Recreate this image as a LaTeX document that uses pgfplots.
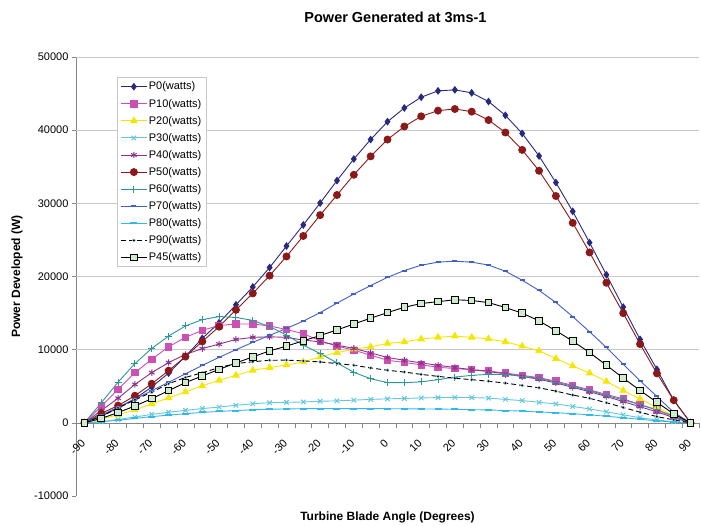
\documentclass[border=0pt]{standalone}
\usepackage{fontspec}
\setmainfont{Liberation Sans}
\usepackage{pgfplots}
\usepackage{pgfplotstable}
\pgfplotsset{compat=1.18}
\definecolor{cP0}{RGB}{40,40,130}
\definecolor{cP10}{RGB}{204,80,180}
\definecolor{cP20}{RGB}{245,230,0}
\definecolor{cP30}{RGB}{100,200,220}
\definecolor{cP40}{RGB}{140,50,140}
\definecolor{cP50}{RGB}{140,25,25}
\definecolor{cP60}{RGB}{45,150,150}
\definecolor{cP70}{RGB}{65,95,200}
\definecolor{cP80}{RGB}{50,185,235}
\definecolor{cP45fill}{RGB}{204,236,204}
\definecolor{axgray}{RGB}{134,134,134}
\definecolor{gridgray}{RGB}{200,200,200}

\pgfplotstableread{
x P0 P10 P20 P30 P40 P50 P60 P70 P80 P90 P45
-90 0 0 0 0 0 0 0 0 0 0 0
-85 900 2260 500 150 1670 1300 2730 1050 150 900 600
-80 2000 4560 1120 450 3360 2350 5560 2150 350 2030 1400
-75 3300 6860 1760 800 5250 3700 8100 3250 600 3140 2300
-70 4900 8690 2590 1150 6860 5340 10170 4400 850 4190 3300
-65 6800 10390 3420 1450 8240 7130 11860 5550 1050 5340 4400
-60 9100 11680 4230 1700 9340 9050 13240 6700 1250 6200 5500
-55 11540 12640 5060 1950 10150 11120 14100 7850 1420 6850 6400
-50 13690 13300 5800 2150 10760 13140 14520 8950 1560 7550 7310
-45 16130 13510 6490 2400 11400 15440 14400 10000 1680 8100 8180
-40 18570 13510 7180 2600 11680 17690 14000 11000 1780 8350 9010
-35 21230 13240 7550 2750 11760 20120 13140 11950 1850 8550 9830
-30 24160 12750 7920 2800 11680 22740 12000 12900 1900 8570 10480
-25 27050 12180 8320 2850 11310 25540 10620 13900 1930 8460 11210
-20 30040 11210 9000 2950 11070 28390 9480 15070 1950 8320 11930
-15 33110 10500 9600 3000 10620 31140 8200 16360 1950 8100 12690
-10 36060 9930 10070 3100 10170 33900 6900 17600 1950 7870 13510
-5 38720 9240 10390 3200 9560 36420 6030 18750 1950 7500 14300
0 41160 8550 10850 3280 8930 38720 5500 19890 1930 7180 15070
5 43030 8250 11070 3330 8550 40500 5480 20810 1920 6940 15790
10 44500 7920 11450 3400 8180 41890 5600 21540 1900 6620 16310
15 45370 7600 11680 3450 7870 42670 5900 21960 1880 6350 16560
20 45510 7410 11860 3480 7550 42890 6250 22090 1850 6100 16820
25 45100 7270 11680 3450 7270 42530 6490 21960 1800 5900 16720
30 43910 7080 11470 3380 7000 41380 6620 21560 1760 5680 16430
35 42030 6800 11070 3200 6700 39680 6620 20720 1680 5430 15760
40 39550 6490 10480 3040 6350 37300 6350 19480 1600 5110 14990
45 36470 6170 9830 2810 5950 34450 6080 18100 1480 4790 13930
50 32840 5700 8790 2580 5450 31000 5560 16450 1380 4330 12590
55 28900 5110 7770 2240 4850 27330 4990 14520 1250 3800 11170
60 24630 4520 6800 1900 4250 23290 4420 12450 1100 3350 9610
65 20240 3870 5660 1500 3600 19140 3730 10300 900 2750 7870
70 15810 3280 4420 1100 2900 14990 3140 8000 700 2100 6120
75 11400 2490 3280 700 2200 10760 2490 5750 480 1450 4420
80 7310 1760 2120 390 1500 6760 1760 3600 280 850 2810
85 3090 840 980 150 700 3090 920 1430 80 400 1210
90 0 0 0 0 0 0 0 0 0 0 0
}\datatable

\begin{document}
\begin{tikzpicture}
\begin{axis}[
  scale only axis, width=623pt, height=439pt,
  xmin=-92.5, xmax=92.5, ymin=-10000, ymax=50000,
  axis x line=middle, axis y line=left,
  hide obscured x ticks=false, hide obscured y ticks=false,
  axis line style={-, draw=axgray, line width=0.6pt},
  tick align=outside,
  scaled y ticks=false, scaled x ticks=false,
  xtick={-90,-80,...,90},
  xticklabels={-90,-80,-70,-60,-50,-40,-30,-20,-10,0,10,20,30,40,50,60,70,80,90},
  minor xtick={-92.5,-87.5,...,92.5},
  major x tick style={draw=none},
  minor x tick style={draw=axgray, line width=0.6pt},
  minor tick length=5pt, major tick length=4pt,
  ytick={-10000,0,10000,20000,30000,40000,50000},
  yticklabels={-10000,0,10000,20000,30000,40000,50000},
  y tick style={draw=axgray, line width=0.6pt},
  extra y ticks={10000,20000,30000,40000,50000},
  extra y tick labels={},
  extra y tick style={ymajorgrids=true, major tick length=0pt},
  grid style={draw=gridgray, line width=0.8pt},
  tick label style={font=\fontsize{11}{13}\selectfont},
  xticklabel style={xshift=-4pt, yshift=-7pt, rotate=45, anchor=north east},
  yticklabel style={anchor=east},
  title={Power Generated at 3ms-1},
  title style={font=\bfseries\fontsize{14.5}{16}\selectfont, at={(axis description cs:0.5,1)}, anchor=center, yshift=34pt, xshift=8pt},
  xlabel={Turbine Blade Angle (Degrees)},
  ylabel={Power Developed (W)},
  every axis x label/.style={at={(axis description cs:0.5,0)}, anchor=center, yshift=-21pt, font=\bfseries\fontsize{12}{14}\selectfont},
  every axis y label/.style={at={([xshift=-59pt]axis description cs:0,0.5)}, rotate=90, anchor=center, font=\bfseries\fontsize{12}{14}\selectfont},
  legend style={at={(rel axis cs:0.066,0.954)}, anchor=north west, draw=gridgray, fill=white, line width=0.6pt,
    font=\fontsize{11}{13}\selectfont, row sep=4.6pt, inner sep=3pt, nodes={inner sep=1.5pt}},
  legend cell align=left,
  legend image code/.code={\draw[#1, mark repeat=2, mark phase=2] plot coordinates {(0pt,0pt) (13pt,0pt) (26pt,0pt)};},
  every axis plot/.append style={line width=0.9pt},
]
\addplot[cP0, mark=diamond*, mark size=3.2pt, mark options={solid}] table[x=x,y=P0]{\datatable};
\addlegendentry{P0(watts)}
\addplot[cP10, mark=square*, mark size=3.2pt, mark options={solid}] table[x=x,y=P10]{\datatable};
\addlegendentry{P10(watts)}
\addplot[cP20, mark=triangle*, mark size=3.6pt, mark options={solid}] table[x=x,y=P20]{\datatable};
\addlegendentry{P20(watts)}
\addplot[cP30, mark=x, mark size=3.2pt, mark options={solid, line width=1pt}] table[x=x,y=P30]{\datatable};
\addlegendentry{P30(watts)}
\addplot[cP40, mark=asterisk, mark size=3.2pt, mark options={solid, line width=1pt}] table[x=x,y=P40]{\datatable};
\addlegendentry{P40(watts)}
\addplot[cP50, mark=*, mark size=3.5pt, mark options={solid}] table[x=x,y=P50]{\datatable};
\addlegendentry{P50(watts)}
\addplot[cP60, mark=+, mark size=3.5pt, mark options={solid, line width=1pt}] table[x=x,y=P60]{\datatable};
\addlegendentry{P60(watts)}
\addplot[cP70, mark=-, mark size=2.5pt, mark options={solid, line width=2pt}] table[x=x,y=P70]{\datatable};
\addlegendentry{P70(watts)}
\addplot[cP80, mark=-, mark size=3.5pt, mark options={solid, line width=2pt}] table[x=x,y=P80]{\datatable};
\addlegendentry{P80(watts)}
\addplot[black, dash pattern=on 5pt off 3pt, mark=*, mark size=1.6pt, mark options={solid, fill=black, draw=cP30!60, line width=0.4pt}] table[x=x,y=P90]{\datatable};
\addlegendentry{P90(watts)}
\addplot[black, mark=square*, mark size=3.3pt, mark options={solid, fill=cP45fill, draw=black, line width=1pt}] table[x=x,y=P45]{\datatable};
\addlegendentry{P45(watts)}
\path (rel axis cs:0,0) ++(-76pt,-30pt) coordinate (bbSW);
\path (rel axis cs:1,1) ++(2pt,57pt) coordinate (bbNE);
\end{axis}
\pgfresetboundingbox
\path[use as bounding box] (bbSW) rectangle (bbNE);
\end{tikzpicture}
\end{document}
